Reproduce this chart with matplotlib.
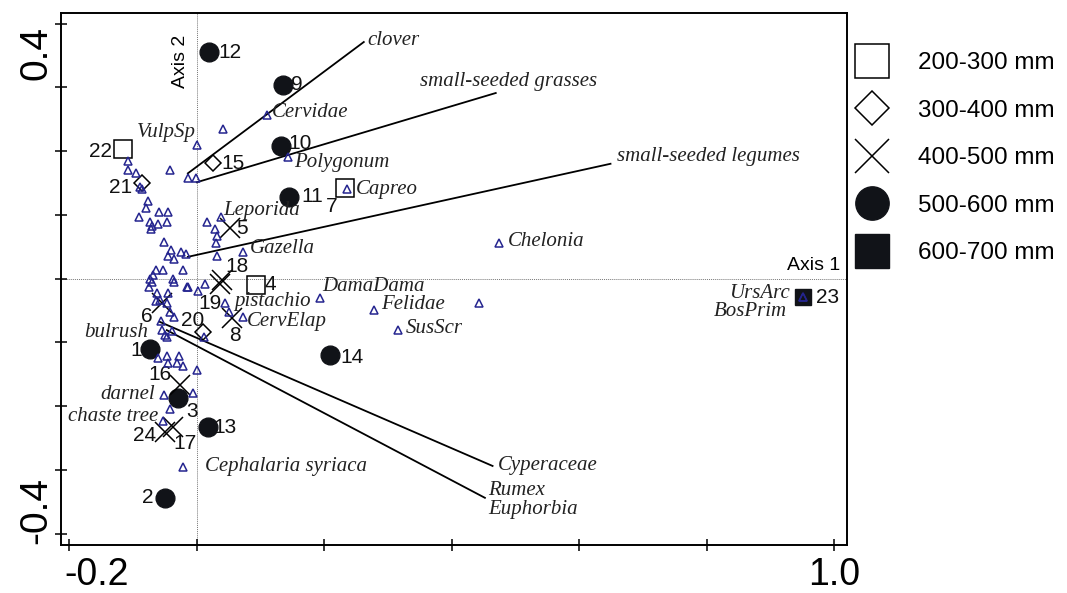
import matplotlib
matplotlib.use('Agg')
import matplotlib.pyplot as plt
from matplotlib.lines import Line2D
from matplotlib.transforms import ScaledTranslation

# site scores on the two ordination axes, and rainfall class of each site
site_ids = ['1', '2', '3', '4', '5', '6', '7', '8', '9', '10', '11', '12',
            '13', '14', '15', '16', '17', '18', '19', '20', '21', '22', '23', '24']
site_x = [-0.074, -0.050, -0.030, 0.093, 0.052, -0.055, 0.232, 0.056, 0.136, 0.132, 0.144, 0.019,
          0.017, 0.209, 0.025, -0.027, -0.038, 0.039, 0.036, 0.009, -0.086, -0.116, 0.951, -0.050]
site_y = [-0.111, -0.344, -0.187, -0.010, 0.079, -0.038, 0.142, -0.062, 0.304, 0.208, 0.128, 0.355,
          -0.233, -0.120, 0.181, -0.167, -0.233, -0.002, -0.009, -0.084, 0.150, 0.203, -0.029, -0.241]
site_rain = [3, 3, 3, 0, 2, 2, 0, 2, 3, 3, 3, 3,
             3, 3, 1, 2, 2, 2, 2, 1, 1, 0, 4, 2]

rain_classes = ['200-300 mm', '300-400 mm', '400-500 mm', '500-600 mm', '600-700 mm']

# taxa scores (triangles); empty name = unlabelled
species_x = [0.041, 0.000, -0.108, -0.108, -0.096, -0.042, -0.014, -0.002, -0.089, -0.086,
             -0.077, -0.080, -0.060, -0.045, -0.091, 0.038, -0.074, -0.071, -0.072, -0.061,
             -0.047, 0.016, 0.028, 0.031, 0.030, -0.052, -0.041, -0.025, -0.017, -0.045,
             -0.035, 0.031, 0.072, -0.064, -0.053, -0.022, -0.069, -0.074, -0.071, -0.038,
             -0.075, -0.063, -0.045, -0.016, -0.013, 0.002, 0.013, -0.036, -0.058, -0.064,
             -0.047, -0.042, -0.036, -0.056, -0.055, -0.039, -0.050, -0.047, 0.011, 0.045,
             0.050, 0.072, -0.061, -0.047, -0.028, -0.045, -0.031, -0.022, 0.000, -0.052,
             -0.006, -0.042, -0.053, -0.022, 0.110, 0.143, 0.235, 0.474, 0.193, 0.278,
             0.442, 0.315, 0.951, 0.951]
species_y = [0.234, 0.210, 0.185, 0.171, 0.166, 0.171, 0.158, 0.157, 0.143, 0.140,
             0.121, 0.110, 0.105, 0.104, 0.097, 0.096, 0.089, 0.082, 0.078, 0.086,
             0.088, 0.088, 0.078, 0.067, 0.055, 0.058, 0.045, 0.042, 0.038, 0.036,
             0.031, 0.035, 0.041, 0.014, 0.013, 0.013, 0.005, 0.000, -0.005, 0.000,
             -0.013, -0.022, -0.022, -0.014, -0.014, -0.019, -0.009, -0.005, -0.033, -0.036,
             -0.038, -0.053, -0.061, -0.066, -0.080, -0.083, -0.088, -0.091, -0.091, -0.039,
             -0.053, -0.060, -0.124, -0.122, -0.122, -0.132, -0.132, -0.138, -0.144, -0.182,
             -0.179, -0.205, -0.224, -0.295, 0.256, 0.191, 0.140, 0.056, -0.030, -0.049,
             -0.039, -0.080, -0.029, -0.029]
species_names = ['', 'VulpSp', '', '', '', '', '', '', '', '',
                 '', '', '', '', '', 'Leporida', '', '', '', '',
                 '', '', '', '', '', '', '', '', '', '',
                 '', '', 'Gazella', '', '', '', '', '', '', '',
                 '', '', '', '', '', '', '', '', '', '',
                 '', '', '', '', 'bulrush', '', '', '', '', 'pistachio',
                 '', 'CervElap', '', '', '', '', '', '', '', 'darnel',
                 '', '', 'chaste tree', 'Cephalaria syriaca', 'Cervidae', 'Polygonum', 'Capreo', 'Chelonia', 'DamaDama', 'Felidae',
                 '', 'SusScr', 'UrsArc', 'BosPrim']

# plant variables drawn as lines from near the origin
vector_names = ['clover', 'small-seeded grasses', 'small-seeded legumes', 'Cyperaceae', 'Rumex\nEuphorbia']
vector_x0 = [-0.014, 0.000, -0.014, -0.058, -0.047]
vector_y0 = [0.165, 0.151, 0.034, -0.068, -0.081]
vector_x1 = [0.262, 0.469, 0.649, 0.464, 0.452]
vector_y1 = [0.371, 0.291, 0.180, -0.294, -0.344]

x_ticks = [-0.2, 0.0, 0.2, 0.4, 0.6, 0.8, 1.0]
x_tick_labels = ['-0.2', '', '', '', '', '', '1.0']
y_ticks = [-0.4, -0.3, -0.2, -0.1, 0.0, 0.1, 0.2, 0.3, 0.4]
y_tick_labels = ['-0.4', '', '', '', '', '', '', '', '0.4']

# label placement (offset in pixels, alignment)
site_label_offsets = {
    '1': (-13, -1), '2': (-17, 0), '3': (14, -14), '4': (14, 0), '5': (12, 0), '6': (-15, -14),
    '7': (-13, -19), '8': (2, -17), '9': (13, 0), '10': (19, 2), '11': (24, 0), '12': (21, 0),
    '13': (17, 0), '14': (22, -2), '15': (20, 0), '16': (-20, 10), '17': (12, -16), '18': (15, 13),
    '19': (-10, -19), '20': (-10, 12), '21': (-21, -5), '22': (-22, -2), '23': (25, 0), '24': (-20, -3),
}
species_label_offsets = {
    'VulpSp': (-1, 12, 'right'), 'Leporida': (2, 7, 'left'), 'Gazella': (7, 4, 'left'),
    'bulrush': (-14, -3, 'right'), 'pistachio': (9, 2, 'left'), 'CervElap': (4, -5, 'left'),
    'darnel': (-9, 0, 'right'), 'chaste tree': (-5, 5, 'right'), 'Cephalaria syriaca': (22, 0, 'left'),
    'Cervidae': (5, 3, 'left'), 'Polygonum': (6, -6, 'left'), 'Capreo': (9, 0, 'left'),
    'Chelonia': (9, 1, 'left'), 'DamaDama': (2, 11, 'left'), 'Felidae': (7, 5, 'left'),
    'SusScr': (8, 1, 'left'), 'UrsArc': (-13, 4, 'right'), 'BosPrim': (-16, -14, 'right'),
}
vector_label_offsets = [(4, 2), (-76, 12), (7, 7), (5, 0), (3, -2)]

SANS = ['Liberation Sans', 'DejaVu Sans']
SERIF = ['Liberation Serif', 'DejaVu Serif']
TRI = '#25258f'
INK = '#111318'

site_styles = [
    dict(marker='s', ms=12.5, mfc='none', mec='black', mew=1.1),
    dict(marker='D', ms=8.5, mfc='none', mec='black', mew=1.1),
    dict(marker='x', ms=14, mec='black', mew=1.1),
    dict(marker='o', ms=13.5, mfc=INK, mec=INK),
    dict(marker='s', ms=12, mfc=INK, mec=INK),
]
legend_styles = [
    dict(marker='s', ms=24, mfc='white', mec='black', mew=1.1),
    dict(marker='D', ms=17, mfc='white', mec='black', mew=1.1),
    dict(marker='x', ms=24, mec='black', mew=1.1),
    dict(marker='o', ms=24, mfc=INK, mec=INK),
    dict(marker='s', ms=24, mfc=INK, mec=INK),
]


def main():
    fig = plt.figure(figsize=(10.67, 5.93), dpi=100)
    ax = fig.add_axes([61 / 1067, 1 - 545 / 593, 786 / 1067, 532 / 593])
    ax.set_xlim(-0.213, 1.020)
    ax.set_ylim(-0.418, 0.4165)

    ax.axhline(0, color='#777777', lw=0.7, ls=(0, (1, 1)), zorder=1)
    ax.axvline(0, color='#777777', lw=0.7, ls=(0, (1, 1)), zorder=1)

    # plant variable lines
    for name, x0, y0, x1, y1, off in zip(vector_names, vector_x0, vector_y0,
                                         vector_x1, vector_y1, vector_label_offsets):
        ax.plot([x0, x1], [y0, y1], color='black', lw=1.3, zorder=2)
        ax.annotate(name, (x1, y1), xytext=off, textcoords='offset pixels',
                    ha='left', va='center', fontsize=15, family=SERIF, style='italic',
                    color='#222222', linespacing=1.0)

    # sites
    for sid, x, y, r in zip(site_ids, site_x, site_y, site_rain):
        ax.plot(x, y, ls='none', zorder=3, **site_styles[r])
        ax.annotate(sid, (x, y), xytext=site_label_offsets[sid], textcoords='offset pixels',
                    ha='center', va='center', fontsize=15, family=SANS, color='#111111')

    # taxa
    ax.plot(species_x, species_y, ls='none', marker='^', ms=5.5, mfc='none',
            mec=TRI, mew=1.1, zorder=4)
    for name, x, y in zip(species_names, species_x, species_y):
        if not name:
            continue
        dx, dy, ha = species_label_offsets[name]
        ax.annotate(name, (x, y), xytext=(dx, dy), textcoords='offset pixels',
                    ha=ha, va='center', fontsize=15, family=SERIF, style='italic',
                    color='#222222')

    ax.text(-0.025, 0.341, 'Axis 2', rotation=90, ha='center', va='center',
            fontsize=14, family=SANS)
    ax.text(1.010, 0.021, 'Axis 1', ha='right', va='center', fontsize=14, family=SANS)

    ax.set_xticks(x_ticks)
    ax.set_xticklabels(x_tick_labels, fontsize=27, family=SANS)
    ax.set_yticks(y_ticks)
    ax.set_yticklabels(y_tick_labels, fontsize=28, family=SANS, rotation=90, va='center')
    ax.tick_params(direction='inout', length=9, width=1.1, color='black')
    ax.tick_params(axis='x', pad=4)
    ax.tick_params(axis='y', pad=0)
    for spine in ax.spines.values():
        spine.set_linewidth(1.4)

    # the end labels sit inside the frame, as in the original
    xlabels = ax.get_xticklabels()
    xlabels[0].set_transform(xlabels[0].get_transform() + ScaledTranslation(0.27, 0, fig.dpi_scale_trans))
    ylabels = ax.get_yticklabels()
    ylabels[0].set_transform(ylabels[0].get_transform() + ScaledTranslation(0, 0.23, fig.dpi_scale_trans))
    ylabels[-1].set_transform(ylabels[-1].get_transform() + ScaledTranslation(0, -0.29, fig.dpi_scale_trans))

    handles = [Line2D([], [], ls='none', **st) for st in legend_styles]
    fig.legend(handles, rain_classes, loc='upper left', bbox_to_anchor=(0.774, 0.949),
               frameon=False, prop={'family': SANS, 'size': 17.5}, labelspacing=1.05,
               handlelength=2.0, handletextpad=0.89)

    fig.savefig('out.png', dpi=100)


if __name__ == '__main__':
    main()
